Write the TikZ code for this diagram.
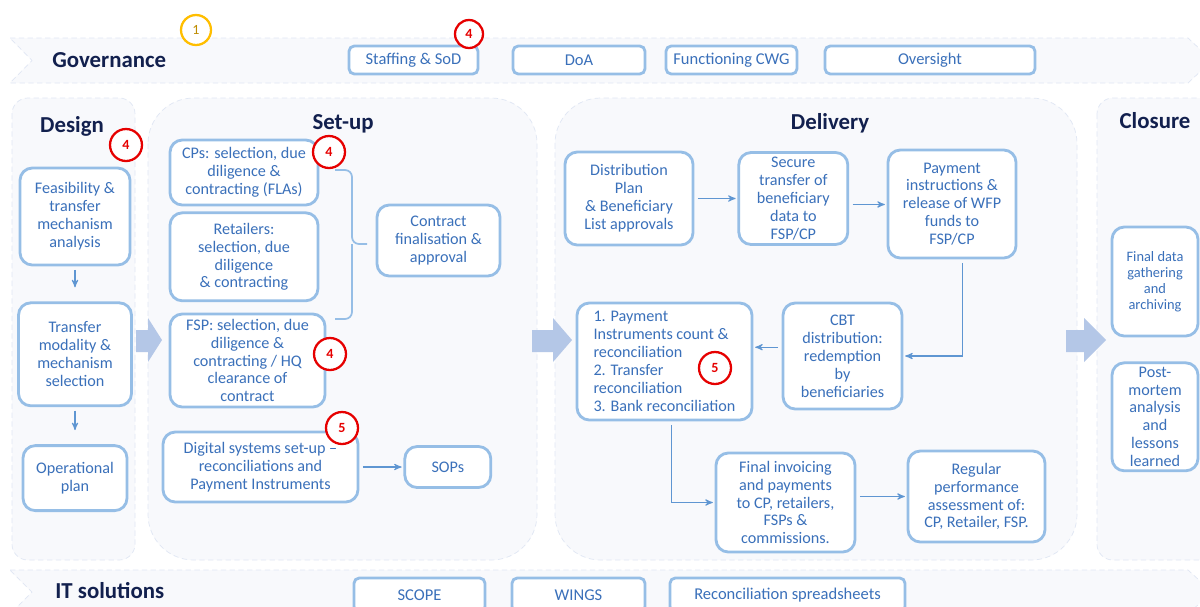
\documentclass[tikz,border=0pt]{standalone}
\usepackage{fontspec}
\setmainfont{Carlito}
\usepackage{tikz}
\usetikzlibrary{arrows, positioning, calc}

\definecolor{boxline}{RGB}{150,190,230}
\definecolor{boxtext}{RGB}{58,112,186}
\definecolor{navy}{RGB}{18,32,78}
\definecolor{linkblue}{RGB}{95,150,210}
\definecolor{phasefill}{RGB}{248,249,252}
\definecolor{phaseline}{RGB}{224,231,244}
\definecolor{bigarrowfill}{RGB}{180,199,231}
\definecolor{badgered}{RGB}{230,0,0}
\definecolor{badgegold}{RGB}{255,190,0}
\definecolor{goldtext}{RGB}{190,140,0}

\begin{document}
\begin{tikzpicture}[
    x=0.02cm, y=-0.02cm, % one unit = one pixel of the page
    sz/.style 2 args={minimum width=#1*0.02cm, minimum height=#2*0.02cm},
    block/.style={
        rectangle,
        draw=boxline,
        line width=1.6pt,
        fill=white,
        rounded corners=7pt,
        align=center,
        text=boxtext,
        inner sep=1pt,
        font=\fontsize{9.2}{10.2}\selectfont
    },
    tagbox/.style={block, rounded corners=3pt, font=\fontsize{9.4}{11}\selectfont},
    phasebox/.style={draw=phaseline, densely dashed, line width=0.4pt, fill=phasefill},
    bandshape/.style={draw=phaseline, densely dashed, line width=0.4pt, fill=phasefill},
    phasetitle/.style={text=navy, font=\bfseries\fontsize{13}{15}\selectfont, inner sep=0pt},
    line/.style={->, >=stealth', draw=linkblue, line width=0.6pt, shorten >=1pt, shorten <=2pt},
    brace/.style={draw=boxline, line width=1pt, rounded corners=4pt},
    badge/.style={circle, draw=badgered, line width=1.3pt, fill=white, text=badgered,
        inner sep=0pt, minimum size=0.64cm, font=\bfseries\fontsize{8}{9}\selectfont}
]
    \clip (0,0) rectangle (1200,606);
    \fill[white] (0,0) rectangle (1200,606);

    % governance and IT bands
    \draw[bandshape] (10,38) -- (1188,38) -- (1212,60.5) -- (1188,83) -- (10,83) -- (32,60.5) -- cycle;
    \draw[bandshape] (10,570) -- (1188,570) -- (1212,592) -- (1188,614) -- (10,614) -- (32,592) -- cycle;

    % phase panels
    \draw[phasebox, rounded corners=9pt] (12,98) rectangle (135,560);
    \draw[phasebox, rounded corners=26pt] (148,98) rectangle (537,560);
    \draw[phasebox, rounded corners=26pt] (555,98) rectangle (1077,560);
    \draw[phasebox, rounded corners=9pt] (1097,98) rectangle (1230,560);

    % big arrows between phases
    \foreach \xa/\xb/\xc in {136/148/162, 532/553/572, 1066/1084/1106}
        \fill[bigarrowfill] (\xa,330) -- (\xb,330) -- (\xb,318) -- (\xc,340)
            -- (\xb,362) -- (\xb,352) -- (\xa,352) -- cycle;

    % titles
    \node[phasetitle, anchor=base west] (gov) at (52,67) {Governance};
    \node[phasetitle, anchor=base west] (itsol) at (55,598) {IT solutions};
    \node[phasetitle, anchor=base] (design) at (72,132) {Design};
    \node[phasetitle, anchor=base] (setup) at (343,129) {Set-up};
    \node[phasetitle, anchor=base] (delivery) at (830,129) {Delivery};
    \node[phasetitle, anchor=base] (closure) at (1155,128) {Closure};

    % governance row
    \node[tagbox, sz={129}{28}] (staff) at (413.5,60) {Staffing \& SoD};
    \node[tagbox, sz={132}{28}] (doa) at (579,60) {DoA};
    \node[tagbox, sz={131}{28}] (cwg) at (731.5,60) {Functioning CWG};
    \node[tagbox, sz={210}{28}] (oversight) at (930,60) {Oversight};

    % IT row
    \node[tagbox, sz={131}{34}] (scope) at (419.5,595) {SCOPE};
    \node[tagbox, sz={133}{34}] (wings) at (578.5,595) {WINGS};
    \node[tagbox, sz={235}{34}] (sheets) at (787.5,595) {Reconciliation spreadsheets};

    % design
    \node[block, sz={110}{97}] (feas) at (75,216.5) {Feasibility \&\\transfer\\mechanism\\analysis};
    \node[block, sz={113}{103}, below=0.7cm of feas] (modality) {Transfer\\modality \&\\mechanism\\selection};
    \node[block, sz={104}{65}, below=0.74cm of modality] (opplan) {Operational\\plan};

    % set-up
    \node[block, sz={148}{65}] (cps) at (244,172.5) {CPs: selection, due\\diligence \&\\contracting (FLAs)};
    \node[block, sz={148}{88}, below=0.1cm of cps] (retail) {Retailers:\\selection, due\\diligence\\\& contracting};
    \node[block, sz={155}{93}] (fsp) at (247.5,360.5) {FSP: selection, due\\diligence \&\\contracting / HQ\\clearance of\\contract};
    \node[block, sz={123}{71}] (contract) at (438.5,240.5) {Contract\\finalisation \&\\approval};
    \node[block, sz={195}{70}] (digital) at (260.5,467) {Digital systems set-up –\\reconciliations and\\Payment Instruments};
    \node[block, sz={86}{41}, right=0.88cm of digital] (sops) {SOPs};

    % delivery
    \node[block, sz={128}{93}] (distplan) at (629,198.5) {Distribution\\Plan\\\& Beneficiary\\List approvals};
    \node[block, sz={109}{92}, right=0.86cm of distplan] (secure) {Secure\\transfer of\\beneficiary\\data to\\FSP/CP};
    \node[block, sz={128}{108}] (payinstr) at (952,204) {Payment\\instructions \&\\release of WFP\\funds to\\FSP/CP};
    \node[block, sz={175}{117}, align=left] (recon) at (664.5,361.5) {1. Payment\\Instruments count \&\\reconciliation\\2. Transfer\\reconciliation\\3. Bank reconciliation};
    \node[block, sz={119}{106}] (cbt) at (842.5,356) {CBT\\distribution:\\redemption\\by\\beneficiaries};
    \node[block, sz={139}{99}] (invoice) at (785.5,502.5) {Final invoicing\\and payments\\to CP, retailers,\\FSPs \&\\commissions.};
    \node[block, sz={137}{91}] (perf) at (976.5,496.5) {Regular\\performance\\assessment of:\\CP, Retailer, FSP.};

    % closure
    \node[block, sz={86}{109}, font=\fontsize{8.2}{9.1}\selectfont] (archive) at (1155,281.5) {Final data\\gathering\\and\\archiving};
    \node[block, sz={86}{108}, below=0.48cm of archive] (postmortem) {Post-\\mortem\\analysis\\and\\lessons\\learned};

    % connectors
    \draw[line, shorten >=8pt] (feas) -- (modality);
    \draw[line, shorten >=8pt] (modality) -- (opplan);
    \draw[line] (digital) -- (sops);
    \draw[line] (distplan) -- (secure);
    \draw[line] ([yshift=-3.4pt]secure.east) -- ([yshift=-3.4pt]secure.east -| payinstr.west);
    \draw[line] ([xshift=6pt]payinstr.south) |- (cbt.east);
    \draw[line] ([yshift=5pt]cbt.west) -- ([yshift=5pt]cbt.west -| recon.east);
    \draw[line] ([xshift=4pt]recon.south) |- (invoice.west);
    \draw[line] (invoice.east |- perf.west) -- (perf.west);

    % bracket round the selection boxes
    \draw[brace] (335,170) -| (352,244) -- (367,244);
    \draw[brace] (335,319) -| (352,244);

    % numbered badges
    \node[badge, draw=badgegold, text=goldtext, font=\fontsize{8}{9}\selectfont, minimum size=0.6cm] (b1) at (196,30) {1};
    \node[badge, minimum size=0.56cm] (b2) at (469,34) {4};
    \node[badge] (b3) at (126,145) {4};
    \node[badge] (b4) at (329,152) {4};
    \node[badge] (b5) at (330,354) {4};
    \node[badge] (b6) at (342,428) {5};
    \node[badge] (b7) at (715,368) {5};

\end{tikzpicture}
\end{document}
